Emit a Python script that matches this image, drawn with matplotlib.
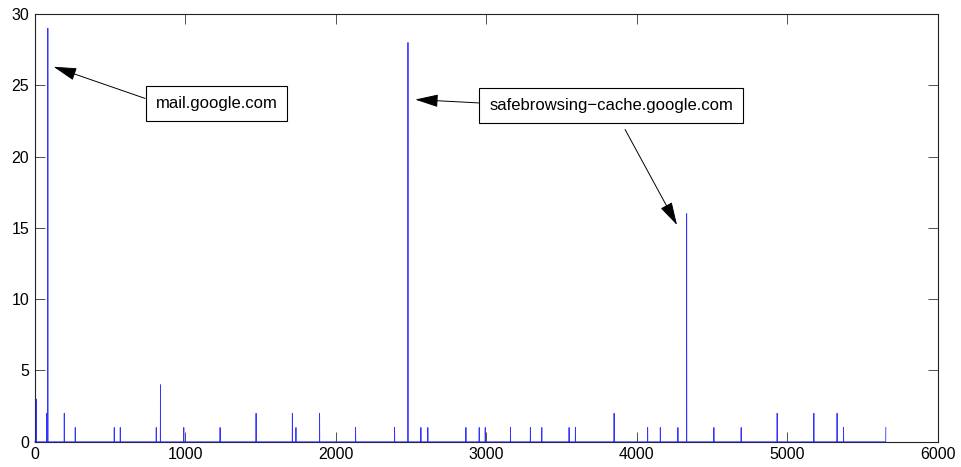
import matplotlib
matplotlib.use("Agg")
import matplotlib.pyplot as plt
import numpy as np

# spike positions (x index) and heights
spike_x = [11, 80, 88, 197, 270, 529, 569, 808, 836, 991, 1232, 1471, 1712, 1736,
           1893, 2132, 2391, 2480, 2566, 2612, 2865, 2953, 2993, 3161, 3293, 3369,
           3550, 3592, 3849, 4072, 4156, 4273, 4331, 4512, 4693, 4932, 5176, 5330,
           5373, 5654]
spike_h = [3, 2, 29, 2, 1, 1, 1, 1, 4, 1, 1, 2, 2, 1,
           2, 1, 1, 28, 1, 1, 1, 1, 1, 1, 1, 1,
           1, 1, 2, 1, 1, 1, 16, 1, 1, 2, 2, 2,
           1, 1]
n_points = 5655

x_ticks = [0, 1000, 2000, 3000, 4000, 5000, 6000]
y_ticks = [0, 5, 10, 15, 20, 25, 30]

plt.rcParams['font.family'] = ['Liberation Sans', 'DejaVu Sans']

xs = np.arange(n_points)
ys = np.zeros(n_points)
ys[spike_x] = spike_h

fig = plt.figure(figsize=(9.61, 4.67), dpi=100)
ax = fig.add_axes([0.036, 0.054, 0.94, 0.916])
ax.plot(xs, ys, color=(0.2, 0.2, 1), lw=0.6, zorder=3, clip_on=False)

ax.set_xlim(0, 6000)
ax.set_ylim(0, 30)
ax.set_xticks(x_ticks)
ax.set_yticks(y_ticks)
ax.tick_params(direction='in', length=7, width=0.6, colors='#333333',
               labelcolor='black', labelsize=11.5, top=True, right=True, pad=4)
for s in ax.spines.values():
    s.set_linewidth(0.8)
    s.set_color('#222222')

box = dict(boxstyle='square,pad=0.6', fc='white', ec='black', lw=0.8)
arrow = dict(arrowstyle='-|>,head_length=0.8,head_width=0.22', color='black',
             lw=0.7, shrinkA=0, shrinkB=0, mutation_scale=18)

ax.annotate('mail.google.com', xy=(126, 26.3), xytext=(1208, 23.7),
            ha='center', va='center', fontsize=12, bbox=box,
            arrowprops=dict(arrow, relpos=(0, 0.62)))
ax.annotate('safebrowsing\u2212cache.google.com', xy=(2528, 24.0),
            xytext=(3829, 23.6), ha='center', va='center', fontsize=12,
            bbox=box, arrowprops=dict(arrow, relpos=(0, 0.62)))
ax.annotate('', xy=(4267, 15.2), xytext=(3922, 21.9), arrowprops=arrow)

fig.savefig('out.png', dpi=100)
